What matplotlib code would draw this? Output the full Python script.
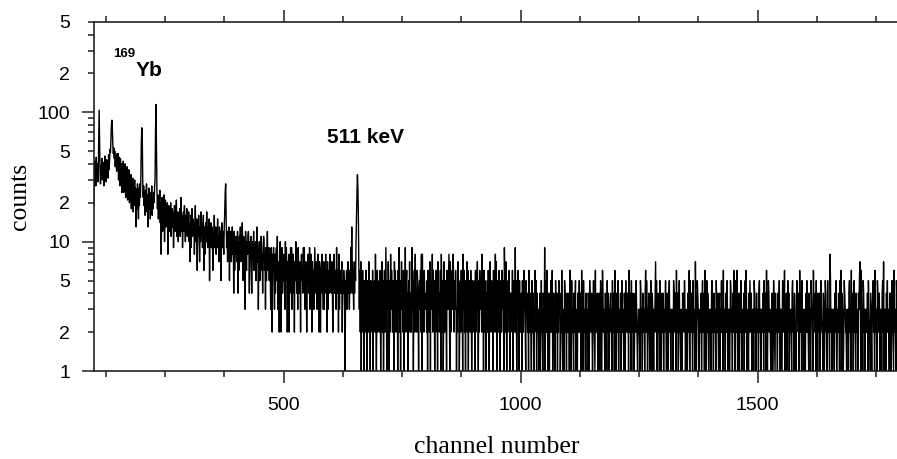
import matplotlib.pyplot as plt
import numpy as np
from matplotlib.ticker import FixedLocator, FixedFormatter

# ---- spectrum (counts per channel, from channel 100) ----
first_channel = 100

counts_100 = [19, 42, 33, 38, 27, 45, 31, 36, 40, 29,
              58, 104, 62, 35, 28, 39, 33, 44, 30, 37,
              41, 27, 35, 46, 32, 38, 29, 43, 34, 40,
              31, 47, 36, 42, 52, 49, 62, 80, 87, 74,
              55, 48, 53, 44, 50, 38, 46, 41, 35, 48,
              39, 48, 30, 45, 33, 27, 44, 31, 40, 24,
              37, 28, 42, 24, 35, 27, 40, 22, 33, 26,
              38, 21, 31, 25, 36, 20, 30, 24, 33, 18,
              29, 22, 31, 17, 27, 21, 30, 19, 26, 13,
              25, 18, 28, 21, 15, 26, 19, 28, 22, 30]

counts_200 = [58, 76, 68, 30, 22, 27, 19, 24, 16, 25,
              20, 28, 17, 23, 13, 21, 26, 18, 24, 15,
              22, 19, 27, 16, 21, 18, 24, 20, 26, 30,
              70, 115, 55, 25, 18, 23, 15, 21, 17, 25,
              14, 20, 8, 18, 22, 12, 19, 16, 23, 10,
              17, 21, 13, 18, 15, 20, 8, 16, 19, 12,
              17, 14, 20, 11, 16, 18, 13, 17, 9, 15,
              19, 12, 16, 14, 21, 11, 15, 17, 10, 16,
              13, 18, 11, 15, 22, 12, 16, 9, 14, 17,
              12, 19, 14, 10, 16, 13, 18, 11, 15, 14]

counts_300 = [17, 10, 14, 7, 16, 9, 13, 18, 11, 15,
              12, 14, 8, 13, 19, 10, 12, 15, 6, 14,
              11, 16, 12, 7, 13, 10, 17, 11, 14, 9,
              12, 16, 6, 13, 8, 12, 14, 10, 17, 11,
              9, 13, 11, 15, 5, 12, 10, 14, 9, 13,
              11, 6, 12, 10, 16, 9, 11, 13, 8, 12,
              10, 15, 9, 11, 7, 13, 10, 12, 5, 11,
              14, 9, 12, 10, 8, 13, 17, 24, 28, 16,
              9, 12, 7, 11, 10, 13, 5, 11, 9, 12,
              7, 10, 13, 8, 11, 4, 12, 6, 10, 8]

counts_400 = [11, 9, 7, 12, 4, 10, 6, 11, 9, 13,
              7, 10, 8, 14, 9, 5, 11, 8, 10, 3,
              12, 9, 6, 10, 8, 11, 12, 9, 4, 10,
              8, 11, 6, 4, 7, 10, 8, 12, 6, 9,
              7, 10, 5, 8, 13, 7, 9, 3, 8, 10,
              5, 9, 7, 11, 6, 8, 4, 9, 11, 10,
              6, 8, 3, 9, 5, 8, 12, 6, 7, 9,
              5, 8, 6, 3, 9, 7, 2, 8, 6, 9,
              5, 3, 8, 4, 7, 9, 5, 11, 3, 7,
              6, 2, 8, 10, 7, 2, 6, 9, 4, 7]

counts_500 = [5, 8, 6, 3, 10, 5, 9, 6, 2, 7,
              5, 8, 2, 6, 5, 9, 4, 9, 3, 5,
              8, 4, 6, 2, 7, 5, 10, 8, 4, 7,
              3, 9, 6, 4, 7, 5, 2, 6, 8, 5,
              6, 4, 9, 5, 9, 3, 4, 7, 5, 2,
              6, 5, 8, 4, 6, 9, 3, 5, 8, 6,
              2, 7, 5, 6, 3, 5, 9, 6, 4, 7,
              5, 3, 6, 8, 5, 2, 7, 6, 2, 5,
              6, 8, 4, 6, 3, 7, 3, 6, 5, 8,
              4, 6, 2, 7, 3, 5, 6, 4, 8, 5]

counts_600 = [6, 4, 7, 5, 2, 6, 5, 8, 4, 6,
              5, 3, 9, 5, 4, 6, 2, 8, 3, 5,
              6, 4, 5, 7, 2, 5, 4, 6, 5, 3,
              1, 5, 4, 6, 3, 5, 7, 4, 5, 3,
              6, 4, 9, 5, 13, 4, 7, 5, 3, 6,
              4, 7, 5, 10, 16, 24, 33, 26, 15, 6,
              3, 6, 2, 7, 1, 4, 3, 6, 2, 5,
              1, 4, 5, 2, 6, 3, 1, 4, 5, 2,
              7, 3, 4, 1, 5, 3, 4, 2, 6, 1,
              4, 3, 5, 2, 8, 3, 1, 4, 6, 2]

# channels 700-1799, one digit per channel, 100 channels per row
tail_rows = [
    "4352614372 5136249315 3741528364 2531746235 4163925147 3526143925 6341537242 2935146283 4265314536 2818352643",
    "3425163427 1534826351 4263517342 3618425137 2453164358 3172546384 2536413275 4135263418 3624153726 1453264135",
    "2435162437 3152643528 4316253142 5263147325 3416253827 1534263145 2635319527 3142536214 4326153429 2513463152",
    "3241532634 2153423162 4321532413 2635142321 3412523143 2915326214 3142523612 4231532413 2534122631 3215423142",
    "2341663152 3214235123 1432523416 2315232143 3124315223 4213532162 2341234135 3126423214 2315243123 4231523416",
    "3214325132 2413523214 3152342316 2431522413 1342532123 3215423142 2314625312 3421352143 2132472513 4231523142",
    "2413235214 3124523132 2315423416 3241352213 2143425312 3214236152 2431523217 3125432132 2413523416 3215243123",
    "3214523142 2315324213 4132523162 2314325213 3125423142 6431532614 3214253123 2413526312 3142532413 2315423142",
    "2314523132 3241532416 2135423213 3412532142 2314235213 3125423612 2413524132 3214523142 2135432416 3241523123",
    "3142523214 2315432163 3241523142 2413532214 3125423152 2318523132 3214235123 2431526142 3125432213 2314523162",
    "2413523142 3214357316 2315423132 3241532214 2134523162 3215432413 2314527132 3142523214 2413532162 3215423142",
]

y_major_ticks = [1, 10, 100]
y_major_labels = ["1", "10", "100"]
y_minor_ticks = [2, 3, 4, 5, 6, 7, 8, 9, 20, 30, 40, 50, 60, 70, 80, 90, 200, 300, 400, 500]
y_minor_labels = ["2", "", "", "5", "", "", "", "", "2", "", "", "5", "", "", "", "", "2", "", "", "5"]
x_major_ticks = [500, 1000, 1500]
x_minor_ticks = [125, 250, 375, 625, 750, 875, 1125, 1250, 1375, 1625, 1750]

tail = [int(c) for row in tail_rows for c in row.replace(" ", "")]
counts = counts_100 + counts_200 + counts_300 + counts_400 + counts_500 + counts_600 + tail
channels = np.arange(first_channel, first_channel + len(counts))

plt.rcParams["font.family"] = "Liberation Sans"

fig = plt.figure(figsize=(8.97, 4.59), dpi=100)
ax = fig.add_axes([93.9 / 897, 88 / 459, 805.8 / 897, 349 / 459])

ax.plot(channels, counts, color="black", lw=1.0)

ax.set_yscale("log")
ax.set_xlim(100, 1800)
ax.set_ylim(1, 500)

ax.yaxis.set_major_locator(FixedLocator(y_major_ticks))
ax.yaxis.set_major_formatter(FixedFormatter(y_major_labels))
ax.yaxis.set_minor_locator(FixedLocator(y_minor_ticks))
ax.yaxis.set_minor_formatter(FixedFormatter(y_minor_labels))
ax.xaxis.set_major_locator(FixedLocator(x_major_ticks))
ax.xaxis.set_minor_locator(FixedLocator(x_minor_ticks))

spine_col = "#222222"
for side in ["left", "bottom", "top"]:
    ax.spines[side].set_color(spine_col)
    ax.spines[side].set_linewidth(1.2)
ax.spines["right"].set_visible(False)

ax.tick_params(axis="both", which="both", direction="out", color=spine_col,
               width=1.1, labelsize=14, top=True, right=False)
ax.tick_params(axis="both", which="major", length=8.6)
ax.tick_params(axis="both", which="minor", length=4.3)
ax.tick_params(axis="y", which="major", pad=8.6)
ax.tick_params(axis="y", which="minor", pad=13)
ax.tick_params(axis="x", which="major", pad=10)

fig.text(20 / 897, 1 - 196 / 459, "counts", rotation=90, ha="center", va="center",
         family="Liberation Serif", fontsize=18.5)
fig.text(496.5 / 897, 1 - 453 / 459, "channel number", ha="center", va="baseline",
         family="Liberation Serif", fontsize=18.5)

fig.text(113 / 897, 1 - 57 / 459, "169", fontsize=9.5, fontweight="bold", va="baseline")
fig.text(136 / 897, 1 - 76 / 459, "Yb", fontsize=15, fontweight="bold", va="baseline")
fig.text(327 / 897, 1 - 143 / 459, "511 keV", fontsize=15, fontweight="bold", va="baseline")

fig.savefig("out.png", dpi=100)
